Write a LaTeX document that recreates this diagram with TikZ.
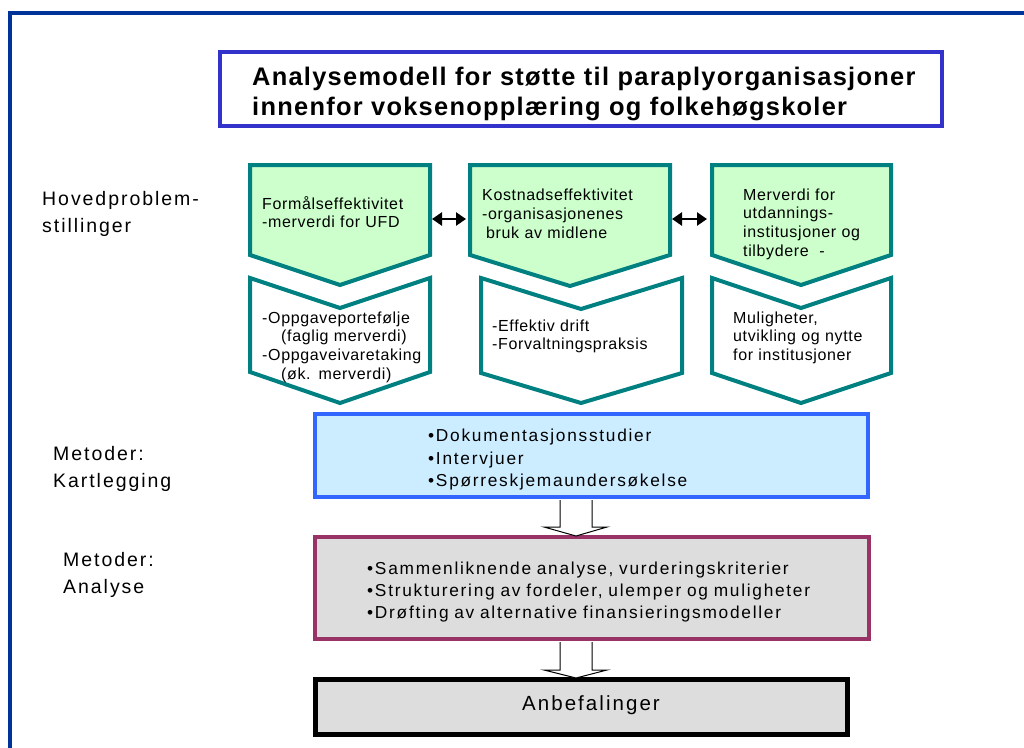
\documentclass[tikz,border=0pt]{standalone}
\usepackage{fontspec}
\setmainfont{Liberation Sans}[LetterSpace=4]
\newfontfamily\labelfont{Liberation Sans}[LetterSpace=10]
\newfontfamily\titlefont{Liberation Sans}[LetterSpace=5]
\usetikzlibrary{arrows.meta}

\definecolor{frameblue}{RGB}{0,51,153}
\definecolor{titleblue}{RGB}{51,51,204}
\definecolor{chevteal}{RGB}{0,128,128}
\definecolor{chevgreen}{RGB}{204,255,204}
\definecolor{kartblue}{RGB}{51,102,255}
\definecolor{kartfill}{RGB}{204,236,255}
\definecolor{analpurple}{RGB}{153,51,102}
\definecolor{boxgrey}{RGB}{221,221,221}

\tikzset{
	chevup/.style={draw=chevteal,fill=chevgreen,line width=4},
	chevdown/.style={draw=chevteal,fill=white,line width=4},
	boxtext/.style={anchor=base west,inner sep=0,text width=#1,align=left,
		font=\fontsize{16}{18.7}\selectfont},
	sidelabel/.style={anchor=base west,inner sep=0,text width=180,align=left,
		font=\labelfont\fontsize{19.5}{27}\selectfont},
	methodtext/.style={anchor=base west,inner sep=0,text width=490,align=left,
		font=\labelfont\fontsize{17.3}{22.3}\selectfont},
	dblarrow/.style={{Triangle[length=10,width=13]}-{Triangle[length=10,width=13]},line width=2.5},
	blockarrow/.style={draw=black,fill=white,line width=1,line join=miter},
}

\begin{document}
\begin{tikzpicture}[x=1pt,y=-1pt]
	\clip (0,0) rectangle (1024,747);
	\fill[white] (0,0) rectangle (1024,747);
	% outer frame
	\draw[frameblue,line width=3.5] (10,760) -- (10,13) -- (1040,13);

	% title
	\node[draw=titleblue,line width=4,minimum width=722,minimum height=74] (titlebox) at (581,89) {};
	\node[anchor=base west,inner sep=0,text width=690,align=left,
		font=\titlefont\bfseries\fontsize{25.4}{30}\selectfont] (title) at (252,85)
		{Analysemodell for støtte til paraplyorganisasjoner\\innenfor voksenopplæring og folkehøgskoler};

	% side labels
	\node[sidelabel] (hovedlabel) at (42,205.7) {Hovedproblem-\\stillinger};
	\node[sidelabel] (kartlabel) at (53,460) {Metoder:\\Kartlegging};
	\node[sidelabel] (anallabel) at (63,566) {Metoder:\\Analyse};

	% upper chevrons
	\draw[chevup] (250,165) -- (430,165) -- (430,255) -- (340,285) -- (250,255) -- cycle;
	\draw[chevup] (470,165) -- (670,165) -- (670,255) -- (570,286) -- (470,255) -- cycle;
	\draw[chevup] (712,165) -- (891,165) -- (891,255) -- (801,285) -- (712,255) -- cycle;

	% lower chevrons
	\draw[chevdown] (250,278) -- (340,308) -- (430,278) -- (430,372) -- (340,403) -- (250,372) -- cycle;
	\draw[chevdown] (481,278) -- (581,309) -- (682,278) -- (682,373) -- (581,403) -- (481,373) -- cycle;
	\draw[chevdown] (712,278) -- (801,308) -- (891,278) -- (891,373) -- (801,403) -- (712,373) -- cycle;

	\coordinate (g1r) at (432,219);
	\coordinate (g2l) at (466,219);
	\coordinate (g2r) at (672,219);
	\coordinate (g3l) at (707,219);
	\draw[dblarrow] (g1r) -- (g2l);
	\draw[dblarrow] (g2r) -- (g3l);

	\node[boxtext=170] (g1text) at (262,209) {Formålseffektivitet\\-merverdi for UFD};
	\node[boxtext=185] (g2text) at (482,200.7) {Kostnadseffektivitet\\-organisasjonenes\\\hspace*{4pt}bruk av midlene};
	\node[boxtext=145] (g3text) at (743,200) {Merverdi for\\utdannings-\\institusjoner og\\tilbydere\ \ -};

	\node[boxtext=170] (w1text) at (262,323) {-Oppgaveportefølje\\\hspace*{19pt}(faglig merverdi)\\-Oppgaveivaretaking\\\hspace*{19pt}(øk. merverdi)};
	\node[boxtext=185] (w2text) at (492,331) {-Effektiv drift\\-Forvaltningspraksis};
	\node[boxtext=155] (w3text) at (733,323) {Muligheter,\\utvikling og nytte\\for institusjoner};

	% method boxes
	\node[draw=kartblue,fill=kartfill,line width=4,minimum width=553,minimum height=83] (kart) at (591.5,455.5) {};
	\node[draw=analpurple,fill=boxgrey,line width=4,minimum width=554,minimum height=102] (anal) at (592,588) {};
	\node[draw=black,fill=boxgrey,line width=5,minimum width=532,minimum height=55] (anbef) at (581.5,707) {};

	\coordinate (k2a) at (576,500);
	\coordinate (a2b) at (576,642);
	\draw[blockarrow] (k2a) ++(-16,0) -- ++(0,27) -- ++(-16,0) -- ++(32,9) -- ++(31,-9) -- ++(-15,0) -- ++(0,-27);
	\draw[blockarrow] (a2b) ++(-16,0) -- ++(0,28) -- ++(-16,0) -- ++(32,8) -- ++(31,-8) -- ++(-15,0) -- ++(0,-28);

	\node[methodtext] (karttext) at (428,441.7) {•Dokumentasjonsstudier\\•Intervjuer\\•Spørreskjemaundersøkelse};
	\node[methodtext] (analtext) at (367,574) {•Sammenliknende analyse, vurderingskriterier\\•Strukturering av fordeler, ulemper og muligheter\\•Drøfting av alternative finansieringsmodeller};
	\node[anchor=base,inner sep=0,font=\labelfont\fontsize{20.5}{24}\selectfont] (anbeftext) at (591,710) {Anbefalinger};
\end{tikzpicture}
\end{document}
